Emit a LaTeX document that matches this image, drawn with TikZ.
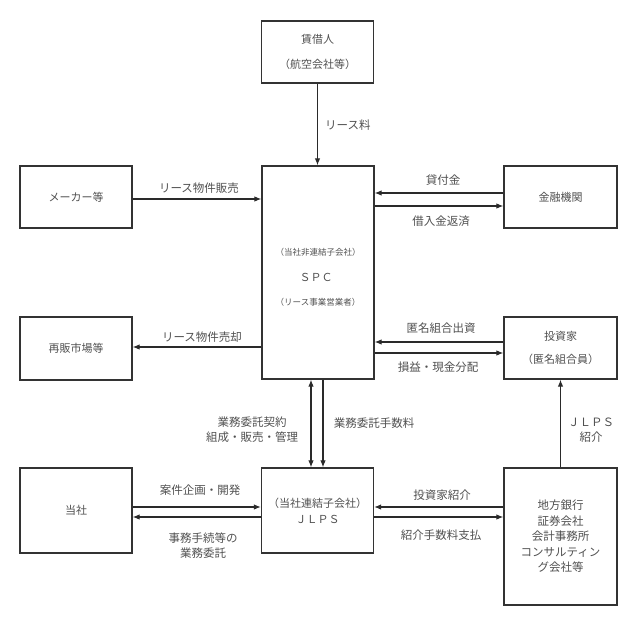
\documentclass[tikz,border=0pt]{standalone}
\usepackage{fontspec}
\setmainfont{Noto Sans CJK JP}
\usetikzlibrary{arrows.meta,calc}
\definecolor{boxc}{HTML}{333333}
\definecolor{linec}{HTML}{2A2A2A}
\definecolor{txtc}{HTML}{505050}
\begin{document}
\begin{tikzpicture}[x=1pt,y=-1pt,
  box/.style={draw=boxc,line width=1.3pt,minimum width=112pt,inner sep=0pt,align=center,text=txtc,font=\fontsize{11}{16}\selectfont},
  arr/.style={draw=linec,line width=1.1pt,-{Latex[length=7pt,width=5.5pt]}},
  darr/.style={draw=linec,line width=1.1pt,{Latex[length=7pt,width=5.5pt]}-{Latex[length=7pt,width=5.5pt]}},
  lbl/.style={text=txtc,font=\fontsize{11.5}{15}\selectfont,align=center,inner sep=0pt}]
\useasboundingbox (0,0) rectangle (636,628);
% boxes
\node[box,minimum height=62pt] (lessee) at (317.5,52) {賃借人\\[9pt]（航空会社等）};
\node[box,minimum height=213pt] (spc) at (318,272.5) {};
\node[text=txtc,font=\fontsize{8.5}{10}\selectfont,inner sep=0pt] (spct1) at (318,252) {（当社非連結子会社）};
\node[text=txtc,font=\fontsize{11}{12}\selectfont,inner sep=0pt] (spct2) at (316,277) {ＳＰＣ};
\node[text=txtc,font=\fontsize{8.5}{10}\selectfont,inner sep=0pt] (spct3) at (318,302) {（リース事業営業者）};
\node[box,minimum height=62pt] (maker) at (76,197) {メーカー等};
\node[box,minimum height=63pt] (resale) at (76,348.5) {再販市場等};
\node[box,minimum height=62pt,minimum width=113pt] (bank) at (560.5,197) {金融機関};
\node[box,minimum height=62pt,minimum width=113pt] (investor) at (560.5,348) {投資家\\[7pt]（匿名組合員）};
\node[box,minimum height=85pt] (toha) at (76,510.5) {当社};
\node[box,minimum height=85pt] (jlps) at (317.5,510.5) {（当社連結子会社）\\ＪＬＰＳ};
\node[box,minimum height=137pt,minimum width=113pt,font=\fontsize{11.5}{15.5}\selectfont] (regional) at (560.5,536.5) {地方銀行\\証券会社\\会計事務所\\コンサルティン\\グ会社等};
% connectors
\draw[arr] (lessee.south) -- (lessee.south |- spc.north);
\draw[arr] ([yshift=-2pt]maker.east) -- ([yshift=-2pt]maker.east -| spc.west);
\draw[arr] ([yshift=1.5pt]resale.east -| spc.west) -- ([yshift=1.5pt]resale.east);
\draw[arr] ([yshift=4pt]bank.west) -- ([yshift=4pt]bank.west -| spc.east);
\draw[arr] ([yshift=-9pt]bank.west -| spc.east) -- ([yshift=-9pt]bank.west);
\draw[arr] ([yshift=6pt]investor.west) -- ([yshift=6pt]investor.west -| spc.east);
\draw[arr] ([yshift=-5pt]investor.west -| spc.east) -- ([yshift=-5pt]investor.west);
\draw[darr] ([xshift=-7pt]spc.south) -- ([xshift=-7pt]spc.south |- jlps.north);
\draw[arr] ([xshift=5pt]spc.south) -- ([xshift=5pt]spc.south |- jlps.north);
\draw[arr] ([yshift=3.5pt]toha.east) -- ([yshift=3.5pt]toha.east -| jlps.west);
\draw[arr] ([yshift=-6.5pt]toha.east -| jlps.west) -- ([yshift=-6.5pt]toha.east);
\draw[arr] (regional.west |- 0,507) -- (jlps.east |- 0,507);
\draw[arr] (jlps.east |- 0,517) -- (regional.west |- 0,517);
\draw[arr] (regional.north) -- (regional.north |- investor.south);
% labels
\node[lbl,anchor=west] (l1) at (325,125) {リース料};
\node[lbl] (l2) at (199,188) {リース物件販売};
\node[lbl] (l3) at (202,337) {リース物件売却};
\node[lbl] (l4) at (443,180) {貸付金};
\node[lbl] (l5) at (441,221) {借入金返済};
\node[lbl] (l6) at (441,328) {匿名組合出資};
\node[lbl] (l7) at (438,367) {損益・現金分配};
\node[lbl] (l8) at (252,429.5) {業務委託契約\\組成・販売・管理};
\node[lbl] (l9) at (374,423) {業務委託手数料};
\node[lbl] (l10) at (200,490) {案件企画・開発};
\node[lbl] (l11) at (203,545.5) {事務手続等の\\業務委託};
\node[lbl] (l12) at (442,495) {投資家紹介};
\node[lbl] (l13) at (441,535) {紹介手数料支払};
\node[lbl] (l14) at (591,430.5) {ＪＬＰＳ\\紹介};
\end{tikzpicture}
\end{document}
